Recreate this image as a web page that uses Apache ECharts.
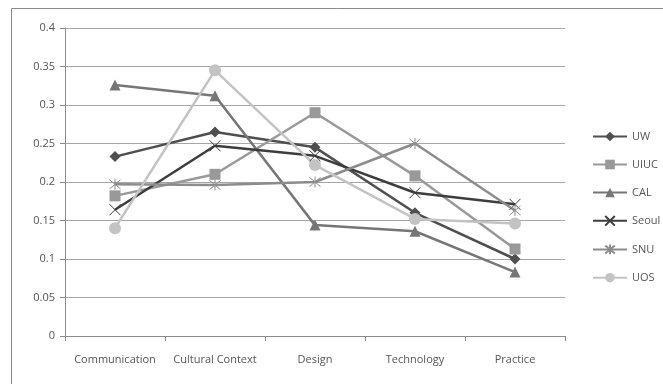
<!DOCTYPE html>
<html>
<head>
<meta charset="utf-8">
<script src="https://cdn.jsdelivr.net/npm/echarts@6/dist/echarts.min.js"></script>
<style>
  html, body { margin: 0; padding: 0; background: #fff; }
  #chart { width: 663px; height: 384px; }
</style>
</head>
<body>
<div id="chart"></div>
<script>
// Categories along the x axis
const categories = ['Communication', 'Cultural Context', 'Design', 'Technology', 'Practice'];

// Series values per school
const uw    = [0.233, 0.265, 0.245, 0.160, 0.100];
const uiuc  = [0.182, 0.210, 0.290, 0.208, 0.113];
const cal   = [0.326, 0.312, 0.144, 0.136, 0.083];
const seoul = [0.164, 0.247, 0.234, 0.186, 0.171];
const snu   = [0.197, 0.196, 0.200, 0.250, 0.163];
const uos   = [0.140, 0.345, 0.222, 0.152, 0.146];

// Y axis range
const yTicks = { min: 0, max: 0.4, interval: 0.05 };

const FONT = '"Open Sans", "Noto Sans", sans-serif';
const CROSS = 'path://M0,0L10,10M10,0L0,10';
const ASTERISK = 'path://M0,0L10,10M10,0L0,10M5,-1L5,11';

function line(name, data, color, symbol, size, stroked) {
  return {
    name, type: 'line', data,
    symbol, symbolSize: size,
    lineStyle: { color, width: 2.5 },
    itemStyle: stroked
      ? { color: 'rgba(0,0,0,0)', borderColor: color, borderWidth: 1 }
      : { color, borderWidth: 0 },
    emphasis: { disabled: true },
    animation: false
  };
}

const chart = echarts.init(document.getElementById('chart'), null, { renderer: 'canvas' });
chart.setOption({
  backgroundColor: '#fff',
  animation: false,
  textStyle: { fontFamily: FONT },
  graphic: [{
    type: 'rect',
    shape: { x: 11.5, y: 8.5, width: 700, height: 400 },
    style: { fill: 'none', stroke: '#8a8a8a', lineWidth: 1 },
    silent: true
  }],
  grid: { left: 65, right: 98, top: 28, bottom: 48 },
  legend: {
    orient: 'vertical',
    left: 587, top: 126,
    itemWidth: 34, itemHeight: 12, itemGap: 17,
    textStyle: { fontFamily: FONT, fontSize: 11, color: '#555' },
    data: ['UW', 'UIUC', 'CAL', 'Seoul', 'SNU', 'UOS']
  },
  xAxis: {
    type: 'category',
    data: categories,
    boundaryGap: true,
    axisLine: { lineStyle: { color: '#8a8a8a', width: 1 } },
    axisTick: { show: true, length: 5, lineStyle: { color: '#8a8a8a' } },
    axisLabel: { interval: 0, fontFamily: FONT, fontSize: 11, color: '#555', margin: 18 }
  },
  yAxis: {
    type: 'value',
    min: yTicks.min, max: yTicks.max, interval: yTicks.interval,
    axisLine: { show: true, lineStyle: { color: '#8a8a8a', width: 1 } },
    axisTick: { show: true, length: 5, lineStyle: { color: '#8a8a8a' } },
    axisLabel: { fontFamily: FONT, fontSize: 11, color: '#555', margin: 10 },
    splitLine: { lineStyle: { color: '#a6a6a6', width: 1 } }
  },
  series: [
    line('UW',    uw,    '#4f4f4f', 'diamond',  11, false),
    line('UIUC',  uiuc,  '#999999', 'rect',     11, false),
    line('CAL',   cal,   '#767676', 'triangle', 11, false),
    line('Seoul', seoul, '#3d3d3d', CROSS,      11, true),
    line('SNU',   snu,   '#8c8c8c', ASTERISK,   11, true),
    line('UOS',   uos,   '#c3c3c3', 'circle',   12, false)
  ]
});
</script>
</body>
</html>
